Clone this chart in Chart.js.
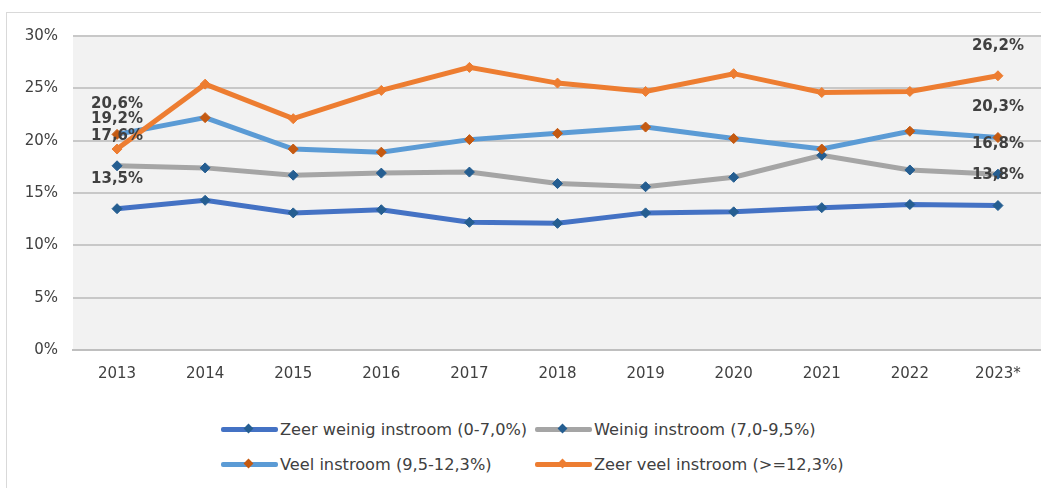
<!DOCTYPE html>
<html>
<head>
<meta charset="utf-8">
<script src="https://cdn.jsdelivr.net/npm/chart.js@4/dist/chart.umd.min.js"></script>
<style>
    body { margin: 0; background: #fff; overflow: hidden; width: 1041px; height: 488px; position: relative; font-family: "DejaVu Sans", sans-serif; }
    .frame { position: absolute; left: 6px; top: 12px; width: 1100px; height: 600px; border-left: 1px solid #d9d9d9; border-top: 1px solid #d9d9d9; }
    .chart-box { position: absolute; left: 0; top: 0; width: 1048px; height: 390px; }
    .legend { position: absolute; left: 221px; top: 418px; display: grid; grid-template-columns: 314px 340px; row-gap: 12px; }
    .legend-item { display: flex; align-items: center; font-size: 16.2px; color: #404040; height: 23px; white-space: nowrap; }
    .sample { position: relative; flex: 0 0 57px; width: 57px; height: 5px; margin-right: 2px; border-radius: 2px; }
    .sample .dot { position: absolute; left: 24px; top: -2px; width: 7px; height: 7px; transform: rotate(45deg); }
</style>
</head>
<body>
<div class="frame"></div>
<div class="chart-box"><canvas id="instroomChart"></canvas></div>
<div class="legend" id="legend"></div>
<script>
// Data
const years = ['2013', '2014', '2015', '2016', '2017', '2018', '2019', '2020', '2021', '2022', '2023*'];
const zeerWeinig = [13.5, 14.3, 13.1, 13.4, 12.2, 12.1, 13.1, 13.2, 13.6, 13.9, 13.8];
const weinig = [17.6, 17.4, 16.7, 16.9, 17.0, 15.9, 15.6, 16.5, 18.6, 17.2, 16.8];
const veel = [20.6, 22.2, 19.2, 18.9, 20.1, 20.7, 21.3, 20.2, 19.2, 20.9, 20.3];
const zeerVeel = [19.2, 25.4, 22.1, 24.8, 27.0, 25.5, 24.7, 26.4, 24.6, 24.7, 26.2];
const seriesNames = ['Zeer weinig instroom (0-7,0%)', 'Weinig instroom (7,0-9,5%)', 'Veel instroom (9,5-12,3%)', 'Zeer veel instroom (>=12,3%)'];
const yTicks = [0, 5, 10, 15, 20, 25, 30];

const lineColors = ['#4472c4', '#a5a5a5', '#5b9bd5', '#ed7d31'];
const markerColors = ['#255e91', '#255e91', '#c55a11', '#ed7d31'];

function makeSet(i, values) {
    return {
        label: seriesNames[i],
        data: values,
        borderColor: lineColors[i],
        backgroundColor: markerColors[i],
        pointBackgroundColor: markerColors[i],
        pointBorderColor: markerColors[i],
        pointStyle: 'rectRot',
        pointRadius: 5,
        pointBorderWidth: 1,
        borderWidth: 5,
        tension: 0,
        order: 4 - i
    };
}

// gray plot background
const plotBg = {
    id: 'plotBg',
    beforeDraw(chart) {
        const { ctx, chartArea } = chart;
        ctx.save();
        ctx.fillStyle = '#f2f2f2';
        ctx.fillRect(chartArea.left, chartArea.top, chartArea.right - chartArea.left, chartArea.bottom - chartArea.top);
        ctx.restore();
    }
};

// value labels on first and last point
const endLabels = {
    id: 'endLabels',
    afterDatasetsDraw(chart) {
        const ctx = chart.ctx;
        ctx.save();
        ctx.font = 'bold 15px "DejaVu Sans"';
        ctx.fillStyle = '#404040';
        ctx.textAlign = 'center';
        ctx.textBaseline = 'middle';
        chart.data.datasets.forEach((ds, i) => {
            const meta = chart.getDatasetMeta(i);
            [0, ds.data.length - 1].forEach(idx => {
                const pt = meta.data[idx];
                const txt = ds.data[idx].toFixed(1).replace('.', ',') + '%';
                ctx.fillText(txt, pt.x, pt.y - 30);
            });
        });
        ctx.restore();
    }
};

const chart = new Chart(document.getElementById('instroomChart'), {
    type: 'line',
    data: {
        labels: years,
        datasets: [
            makeSet(0, zeerWeinig),
            makeSet(1, weinig),
            makeSet(2, veel),
            makeSet(3, zeerVeel)
        ]
    },
    options: {
        responsive: true,
        maintainAspectRatio: false,
        animation: false,
        layout: { padding: { top: 36, left: 0, right: 0, bottom: 0 } },
        plugins: {
            legend: { display: false },
            tooltip: { enabled: false }
        },
        scales: {
            x: {
                offset: true,
                grid: { display: false, drawTicks: false },
                border: { display: true, color: '#bfbfbf', width: 2 },
                ticks: { color: '#404040', font: { family: 'DejaVu Sans', size: 15 }, padding: 15 },
                afterFit(scale) { scale.height = 40; }
            },
            y: {
                min: 0,
                max: 30,
                afterBuildTicks(scale) { scale.ticks = yTicks.map(v => ({ value: v })); },
                grid: { color: '#c8c8c8', lineWidth: 2, drawTicks: false },
                border: { display: false },
                ticks: {
                    color: '#404040',
                    font: { family: 'DejaVu Sans', size: 15 },
                    padding: 15,
                    callback: v => v + '%'
                },
                afterFit(scale) { scale.width = 73; }
            }
        }
    },
    plugins: [plotBg, endLabels]
});

// legend in two aligned columns, like the original
const legend = document.getElementById('legend');
chart.data.datasets.forEach((ds, i) => {
    const item = document.createElement('div');
    item.className = 'legend-item';
    item.innerHTML = `<span class="sample" style="background:${lineColors[i]}"><span class="dot" style="background:${markerColors[i]}"></span></span><span>${ds.label.replace('>', '&gt;')}</span>`;
    legend.appendChild(item);
});
</script>
</body>
</html>
